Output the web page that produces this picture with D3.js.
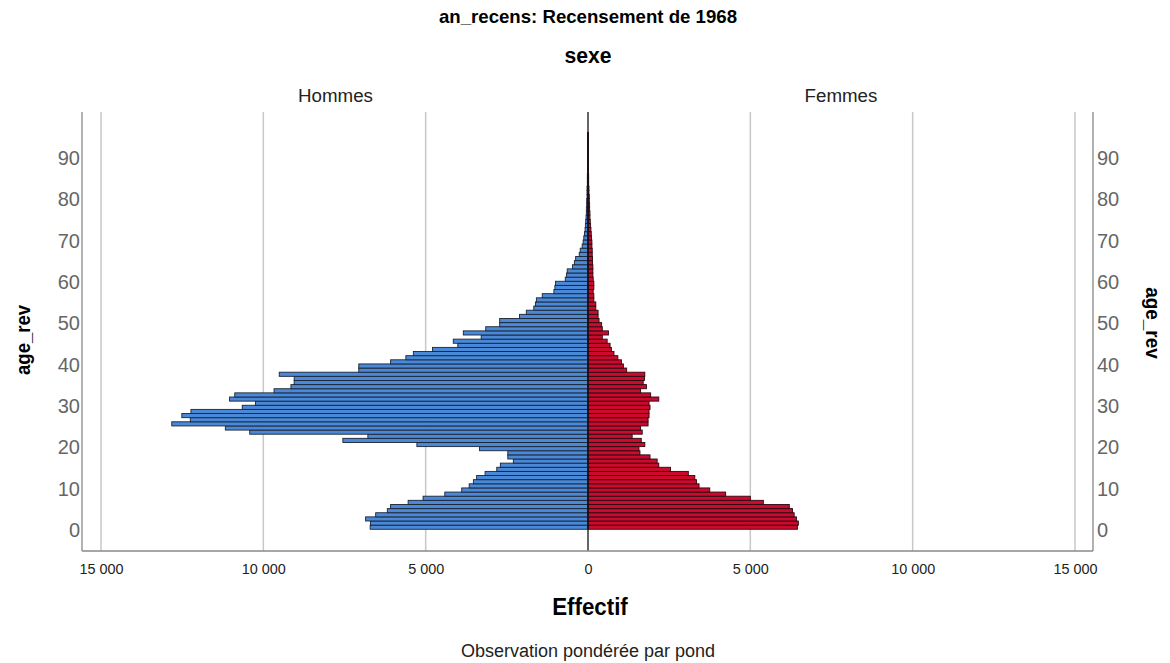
<!DOCTYPE html>
<html><head><meta charset="utf-8">
<script src="https://cdn.jsdelivr.net/npm/d3@7"></script>
<style>
body{margin:0;background:#fff;}
svg{display:block;}
</style></head>
<body>
<svg id="chart" width="1170" height="663"></svg>
<script>
const title = "an_recens: Recensement de 1968";
const panelTitle = "sexe";
const sexes = ["Hommes", "Femmes"];
const ages = d3.range(0, 96);
const hommes = [6.71,6.70,6.85,6.54,6.18,6.08,5.54,5.08,4.41,3.89,
  3.66,3.53,3.43,3.17,2.81,2.70,2.30,2.47,2.47,3.34,
  5.27,7.55,6.78,10.42,11.17,12.82,12.25,12.51,12.23,10.65,
  10.24,11.04,10.88,9.67,9.15,9.05,9.05,9.51,7.06,7.06,
  6.08,5.61,5.38,4.79,4.01,4.15,3.29,3.84,3.15,2.72,
  2.72,2.11,1.90,1.67,1.62,1.59,1.41,1.05,1.02,1.00,
  0.70,0.66,0.64,0.48,0.42,0.38,0.27,0.24,0.18,0.15,
  0.13,0.11,0.09,0.08,0.07,0.06,0.05,0.05,0.04,0.04,
  0.03,0.03,0.03,0.02,0.02,0.02,0.01,0.01,0.01,0.01,
  0.01,0.01,0.01,0.01,0.01,0.01].map(v => v * 1000);
const femmes = [6.45,6.48,6.42,6.35,6.30,6.20,5.40,5.00,4.24,3.75,
  3.42,3.34,3.29,3.09,2.54,2.18,2.13,1.91,1.60,1.57,
  1.75,1.64,1.36,1.67,1.62,1.85,1.85,1.88,1.88,1.91,
  1.88,2.18,1.93,1.62,1.80,1.70,1.74,1.75,1.19,1.09,
  1.03,0.92,0.80,0.72,0.68,0.59,0.44,0.63,0.44,0.42,
  0.34,0.31,0.31,0.24,0.24,0.18,0.18,0.16,0.18,0.18,
  0.16,0.15,0.15,0.15,0.14,0.14,0.13,0.13,0.12,0.12,
  0.11,0.10,0.09,0.08,0.07,0.06,0.06,0.05,0.05,0.04,
  0.04,0.03,0.03,0.02,0.02,0.02,0.01,0.01,0.01,0.01,
  0.01,0.01,0.01,0.01,0.01,0.01].map(v => v * 1000);
const xTickValues = [-15000, -10000, -5000, 0, 5000, 10000, 15000];
const yTickValues = [0, 10, 20, 30, 40, 50, 60, 70, 80, 90];

const svg = d3.select("#chart");
const frame = {left: 82, right: 1093, top: 112, bottom: 551};
const x = d3.scaleLinear().domain([-15000, 15000]).range([101, 1075]);
const y = d3.scaleLinear().domain([0, 90]).range([527.2, 155.2]);
const fmt = v => d3.format(",")(Math.abs(v)).replace(",", " ");

const sans = "'Liberation Sans',Arial,sans-serif";
// scale text horizontally by a ratio of its natural width (reference uses a narrow face)
function narrow(sel, ratio) {
  sel.each(function() {
    const w = this.getComputedTextLength();
    d3.select(this).attr("textLength", w * ratio).attr("lengthAdjust", "spacingAndGlyphs");
  });
}

svg.append("text").attr("x", 588).attr("y", 23).attr("text-anchor", "middle")
  .attr("font-family", sans).attr("font-weight", "bold").attr("font-size", 19).text(title)
  .call(narrow, 0.98);
svg.append("text").attr("x", 588).attr("y", 63).attr("text-anchor", "middle")
  .attr("font-family", sans).attr("font-weight", "bold").attr("font-size", 22).text(panelTitle)
  .call(narrow, 0.96);
svg.selectAll("text.sex").data(sexes).join("text").attr("class", "sex")
  .attr("x", (d, i) => i === 0 ? 335.5 : 841).attr("y", 102).attr("text-anchor", "middle")
  .attr("font-family", sans).attr("font-size", 18).attr("fill", "#222").text(d => d)
  .call(narrow, 1.04);

// gridlines
svg.selectAll("line.grid").data(xTickValues.filter(v => v !== 0)).join("line").attr("class", "grid")
  .attr("x1", d => x(d)).attr("x2", d => x(d)).attr("y1", frame.top).attr("y2", frame.bottom)
  .attr("stroke", "#c8c8c8").attr("stroke-width", 1.5);

// frame lines
svg.append("line").attr("x1", frame.left).attr("x2", frame.left).attr("y1", frame.top).attr("y2", frame.bottom)
  .attr("stroke", "#999").attr("stroke-width", 1.5);
svg.append("line").attr("x1", frame.right).attr("x2", frame.right).attr("y1", frame.top).attr("y2", frame.bottom)
  .attr("stroke", "#999").attr("stroke-width", 1.5);

// zero line
svg.append("line").attr("x1", x(0)).attr("x2", x(0)).attr("y1", frame.top).attr("y2", frame.bottom)
  .attr("stroke", "#666").attr("stroke-width", 2);

const bandTop = a => y(a + 0.5), bandH = a => y(a - 0.5) - y(a + 0.5);
svg.append("g").selectAll("rect").data(ages).join("rect")
  .attr("x", a => x(-hommes[a])).attr("width", a => x(0) - x(-hommes[a]))
  .attr("y", a => bandTop(a)).attr("height", a => bandH(a))
  .attr("fill", "#4a88d8").attr("stroke", "#1b2433").attr("stroke-width", 0.9);
svg.append("g").selectAll("rect").data(ages).join("rect")
  .attr("x", x(0)).attr("width", a => x(femmes[a]) - x(0))
  .attr("y", a => bandTop(a)).attr("height", a => bandH(a))
  .attr("fill", "#cc0a2e").attr("stroke", "#2a0a10").attr("stroke-width", 0.9);

svg.append("line").attr("x1", x(0)).attr("x2", x(0)).attr("y1", bandTop(95)).attr("y2", y(-0.5))
  .attr("stroke", "#111").attr("stroke-width", 1.5);

// x axis
const xAxis = svg.append("g").attr("transform", `translate(0,${frame.bottom})`)
  .call(d3.axisBottom(x).tickValues(xTickValues).tickSize(0).tickPadding(12).tickFormat(fmt));
xAxis.select(".domain").remove();
xAxis.selectAll("text").attr("font-family", sans).attr("font-size", 15).attr("fill", "#222")
  .call(narrow, 0.96);
svg.append("line").attr("x1", frame.left).attr("x2", frame.right).attr("y1", frame.bottom).attr("y2", frame.bottom)
  .attr("stroke", "#888").attr("stroke-width", 1.5);

// y axes
const yl = svg.append("g").attr("transform", `translate(${frame.left - 2},3)`)
  .call(d3.axisLeft(y).tickValues(yTickValues).tickSize(0).tickPadding(0));
const yr = svg.append("g").attr("transform", `translate(${frame.right + 4},3)`)
  .call(d3.axisRight(y).tickValues(yTickValues).tickSize(0).tickPadding(0));
[yl, yr].forEach(g => {
  g.select(".domain").remove();
  g.selectAll("text").attr("font-family", sans).attr("font-size", 20).attr("fill", "#666");
});

svg.append("text").attr("transform", "translate(30,340) rotate(-90)").attr("text-anchor", "middle")
  .attr("font-family", sans).attr("font-weight", "bold").attr("font-size", 21).text("age_rev")
  .call(narrow, 0.88);
svg.append("text").attr("transform", "translate(1146,323) rotate(90)").attr("text-anchor", "middle")
  .attr("font-family", sans).attr("font-weight", "bold").attr("font-size", 21).text("age_rev")
  .call(narrow, 0.9);

svg.append("text").attr("x", 590).attr("y", 615).attr("text-anchor", "middle")
  .attr("font-family", sans).attr("font-weight", "bold").attr("font-size", 23).text("Effectif")
  .call(narrow, 0.97);
svg.append("text").attr("x", 588).attr("y", 657).attr("text-anchor", "middle")
  .attr("font-family", sans).attr("font-size", 18).attr("fill", "#222").text("Observation pondérée par pond")
  .call(narrow, 1.0);
</script>
</body></html>
